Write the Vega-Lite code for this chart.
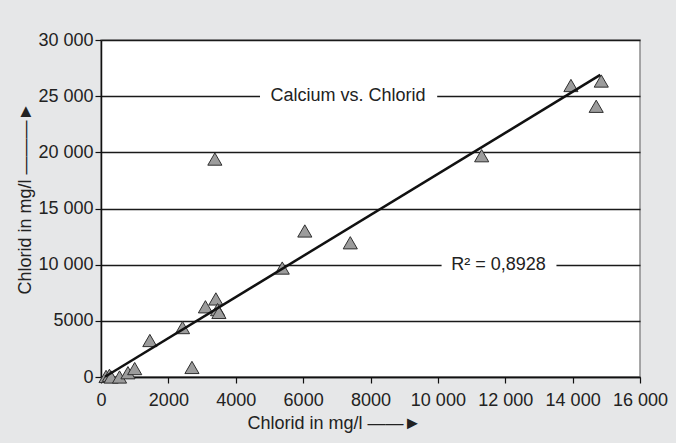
{
  "$schema": "https://vega.github.io/schema/vega-lite/v6.json",
  "width": 539,
  "height": 337,
  "autosize": {"type": "none"},
  "padding": {"left": 101, "top": 40, "right": 36, "bottom": 66},
  "background": "#e6e7e8",
  "config": {
    "font": "Liberation Sans Narrow, Liberation Sans, Arial, sans-serif",
    "view": {"fill": "white", "stroke": "#8c8c8c", "strokeWidth": 1.5}
  },
  "datasets": {
    "samples": [
      {"x": 150, "y": 50},
      {"x": 250, "y": 150},
      {"x": 300, "y": 0},
      {"x": 550, "y": 0},
      {"x": 800, "y": 380},
      {"x": 1000, "y": 750},
      {"x": 1450, "y": 3250},
      {"x": 2420, "y": 4400},
      {"x": 2700, "y": 850},
      {"x": 3100, "y": 6250},
      {"x": 3410, "y": 6950},
      {"x": 3460, "y": 6000},
      {"x": 3500, "y": 5750},
      {"x": 3380, "y": 19400},
      {"x": 5380, "y": 9700},
      {"x": 6050, "y": 13000},
      {"x": 7400, "y": 11950},
      {"x": 11300, "y": 19700},
      {"x": 13950, "y": 25950},
      {"x": 14850, "y": 26350},
      {"x": 14700, "y": 24100}
    ],
    "fit": [
      {"x": 120, "y": 20},
      {"x": 14820, "y": 26890}
    ],
    "labels": [
      {"text": "Calcium vs. Chlorid", "x": 7330, "y": 25000, "gx1": 4720, "gx2": 9980, "gy1": 24650, "gy2": 25350},
      {"text": "R² = 0,8928", "x": 11800, "y": 10000, "gx1": 10110, "gx2": 13520, "gy1": 9650, "gy2": 10350}
    ]
  },
  "encoding": {
    "x": {
      "field": "x",
      "type": "quantitative",
      "scale": {"domain": [0, 16000], "nice": false, "zero": false},
      "axis": {
        "title": "Chlorid in mg/l ——►",
        "values": [0, 2000, 4000, 6000, 8000, 10000, 12000, 14000, 16000],
        "labelExpr": "datum.value >= 10000 ? replace(format(datum.value, ','), ',', ' ') : format(datum.value, 'd')",
        "grid": false,
        "labelFlush": false,
        "labelOverlap": false,
        "domainColor": "#111111",
        "domainWidth": 1.5,
        "tickColor": "#111111",
        "tickSize": 6,
        "tickWidth": 1.2,
        "labelFontSize": 18,
        "labelColor": "#222222",
        "labelPadding": 8,
        "titleFontSize": 18,
        "titleFontWeight": "normal",
        "titleColor": "#222222",
        "titleX": 233,
        "titleY": 46,
        "titleAlign": "center",
        "titleBaseline": "middle"
      }
    },
    "y": {
      "field": "y",
      "type": "quantitative",
      "scale": {"domain": [0, 30000], "nice": false, "zero": false},
      "axis": {
        "title": "Chlorid in mg/l ———►",
        "values": [0, 5000, 10000, 15000, 20000, 25000, 30000],
        "labelExpr": "datum.value >= 10000 ? replace(format(datum.value, ','), ',', ' ') : format(datum.value, 'd')",
        "grid": true,
        "gridColor": "#1a1a1a",
        "gridWidth": 1.5,
        "labelFlush": false,
        "labelOverlap": false,
        "domainColor": "#111111",
        "domainWidth": 1.5,
        "tickColor": "#111111",
        "tickSize": 6,
        "tickWidth": 1.2,
        "labelFontSize": 18,
        "labelColor": "#222222",
        "labelPadding": 2,
        "titleFontSize": 18,
        "titleFontWeight": "normal",
        "titleColor": "#222222",
        "titleX": -76,
        "titleY": 158,
        "titleAlign": "center",
        "titleBaseline": "middle"
      }
    }
  },
  "layer": [
    {
      "data": {"name": "labels"},
      "mark": {"type": "rect", "color": "white"},
      "encoding": {
        "x": {"field": "gx1", "type": "quantitative"},
        "x2": {"field": "gx2"},
        "y": {"field": "gy1", "type": "quantitative"},
        "y2": {"field": "gy2"}
      }
    },
    {
      "data": {"name": "samples"},
      "mark": {
        "type": "point",
        "shape": "triangle-up",
        "filled": true,
        "size": 200,
        "color": "#9c9c9c",
        "stroke": "#2e2e2e",
        "strokeWidth": 1,
        "opacity": 1
      }
    },
    {
      "data": {"name": "fit"},
      "mark": {"type": "line", "color": "#111111", "strokeWidth": 2.5}
    },
    {
      "data": {"name": "labels"},
      "mark": {
        "type": "text",
        "fontSize": 18,
        "color": "#222222",
        "align": "center",
        "baseline": "middle"
      },
      "encoding": {
        "text": {"field": "text"}
      }
    }
  ]
}
